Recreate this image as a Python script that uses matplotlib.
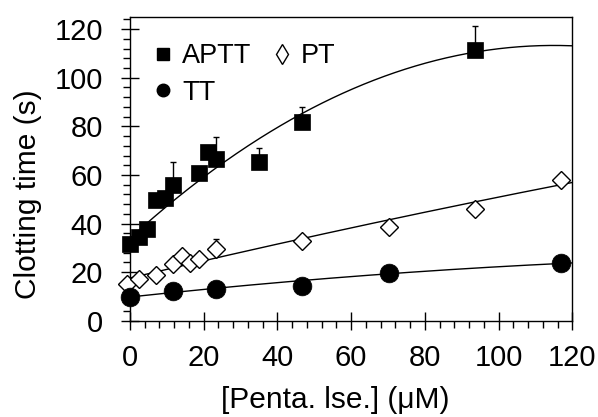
import numpy as np
import matplotlib
matplotlib.use("Agg")
import matplotlib.pyplot as plt
from matplotlib.lines import Line2D
from matplotlib.ticker import MultipleLocator

plt.rcParams['font.family'] = ['Liberation Sans', 'DejaVu Sans']

# ---- data ----
aptt_x = [0, 2.34, 4.68, 7.02, 9.36, 11.7, 18.72, 21.06, 23.4, 35.1, 46.8, 93.6]
aptt_y = [31.5, 34.5, 37.9, 49.6, 50.7, 55.8, 61.0, 69.5, 66.7, 65.3, 81.8, 111.3]
aptt_err = [0, 0, 0, 0, 0, 9.7, 0, 0, 8.9, 6.0, 6.3, 10.0]

pt_x = [-0.8, 2.34, 7.02, 11.7, 14.04, 16.38, 18.72, 23.4, 46.8, 70.2, 93.6, 117]
pt_y = [15.1, 17.0, 18.8, 23.5, 26.5, 23.9, 25.6, 29.6, 32.9, 38.8, 46.2, 57.8]
pt_err = [0, 0, 0, 0, 0, 0, 0, 3.9, 0, 0, 0, 0]

tt_x = [0, 11.7, 23.4, 46.8, 70.2, 117]
tt_y = [9.8, 12.3, 13.0, 14.4, 19.6, 23.8]

# fitted curves: polynomial coefficients (highest power first)
aptt_fit = [-0.006, 1.38, 33.95]
pt_fit = [-0.00027, 0.36, 17.6]
tt_fit = [-0.000386, 0.1631, 9.8]

x_ticks = [0, 20, 40, 60, 80, 100, 120]
y_ticks = [0, 20, 40, 60, 80, 100, 120]
legend_labels = ['APTT', 'TT', 'PT']

fig = plt.figure(figsize=(5.98, 4.17), dpi=100)
ax = fig.add_axes([0.2174, 0.2307, 0.7396, 0.7285])

xf = np.linspace(0, 120, 300)
ax.plot(xf, np.polyval(aptt_fit, xf), color='black', lw=1.0, zorder=2)
ax.plot(xf, np.polyval(pt_fit, xf), color='black', lw=1.0, zorder=2)
ax.plot(xf, np.polyval(tt_fit, xf), color='black', lw=1.0, zorder=2)

ax.errorbar(aptt_x, aptt_y, yerr=[np.zeros(len(aptt_err)), aptt_err], fmt='none',
            ecolor='black', elinewidth=1.0, capsize=2.5, capthick=1.0, zorder=3, clip_on=False)
ax.errorbar(pt_x, pt_y, yerr=[np.zeros(len(pt_err)), pt_err], fmt='none',
            ecolor='black', elinewidth=1.0, capsize=2.5, capthick=1.0, zorder=3, clip_on=False)

ax.plot(aptt_x, aptt_y, ls='none', marker='s', ms=12, mfc='black', mec='black', mew=0.5,
        zorder=4, clip_on=False)
ax.plot(pt_x, pt_y, ls='none', marker='D', ms=9.5, mfc='white', mec='black', mew=1.0,
        zorder=4, clip_on=False)
ax.plot(tt_x, tt_y, ls='none', marker='o', ms=13.5, mfc='black', mec='black', mew=0.5,
        zorder=5, clip_on=False)

ax.set_xlim(0, 120)
ax.set_ylim(0, 125)
ax.set_xticks(x_ticks)
ax.set_yticks(y_ticks)
ax.xaxis.set_minor_locator(MultipleLocator(4))
ax.yaxis.set_minor_locator(MultipleLocator(4))
ax.tick_params(which='major', direction='inout', length=13, width=1.0, labelsize=21)
ax.tick_params(which='minor', direction='out', length=5, width=1.0)
ax.tick_params(axis='x', which='major', pad=10)
ax.tick_params(axis='y', which='major', pad=13)
for s in ax.spines.values():
    s.set_linewidth(1.0)

ax.set_xlabel('[Penta. lse.] (μM)', fontsize=21.5, va='top')
ax.set_ylabel('Clotting time (s)', fontsize=21.5)
ax.xaxis.set_label_coords(0.464, -0.213)
ax.yaxis.set_label_coords(-0.199, 0.417)

handles = [
    Line2D([], [], ls='none', marker='s', ms=8.5, mfc='black', mec='black'),
    Line2D([], [], ls='none', marker='o', ms=9, mfc='black', mec='black'),
    Line2D([], [], ls='none', marker='d', ms=10.5, mfc='white', mec='black', mew=1.0),
]
ax.legend(handles, legend_labels, ncol=2, loc='upper left', frameon=False, fontsize=19.5,
          handlelength=0.8, handletextpad=0.3, columnspacing=0.7, labelspacing=0.38,
          borderpad=0, borderaxespad=0, bbox_to_anchor=(0.051, 0.913))

fig.savefig('out.png', dpi=100)
